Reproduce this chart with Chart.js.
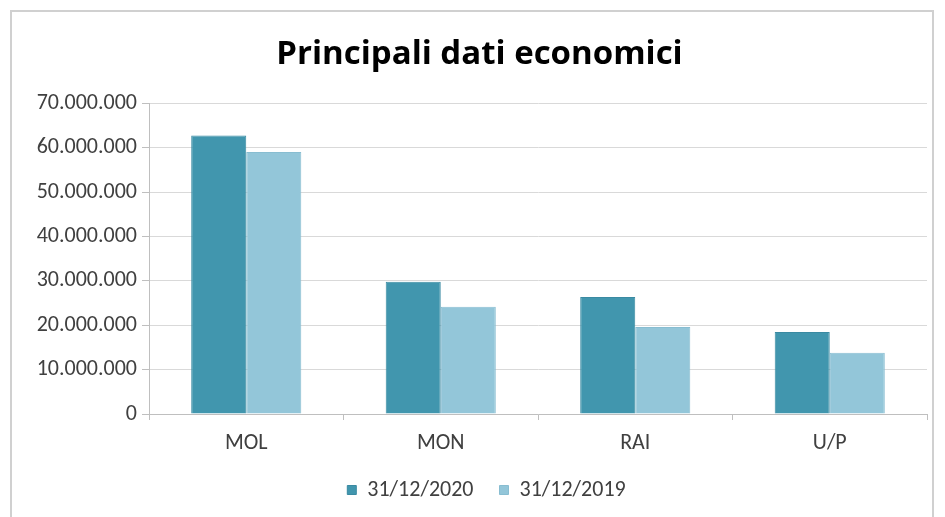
<!DOCTYPE html>
<html>
<head>
<meta charset="utf-8">
<script src="https://cdn.jsdelivr.net/npm/chart.js@4/dist/chart.umd.min.js"></script>
<style>
  html, body { margin: 0; padding: 0; background: #ffffff; }
  #wrap { width: 945px; height: 517px; position: relative; }
</style>
</head>
<body>
<div id="wrap"><canvas id="c" width="945" height="517"></canvas></div>
<script>
const categories = ["MOL", "MON", "RAI", "U/P"];
const series2020 = [62800000, 29800000, 26400000, 18500000];
const series2019 = [59100000, 24200000, 19600000, 13800000];
const seriesLabels = ["31/12/2020", "31/12/2019"];
const chartTitle = "Principali dati economici";

function fmt(v) {
  const s = Math.round(v).toString();
  return s.replace(/\B(?=(\d{3})+(?!\d))/g, ".");
}

const frame = {
  id: 'frame',
  beforeDraw(chart) {
    const ctx = chart.ctx;
    ctx.save();
    ctx.fillStyle = '#ffffff';
    ctx.fillRect(0, 0, chart.width, chart.height);
    ctx.strokeStyle = '#d0d0d0';
    ctx.lineWidth = 2;
    ctx.strokeRect(11, 11, 922, 530);
    ctx.restore();
  },
  afterLayout(chart) {
    if (chart.titleBlock) { chart.titleBlock.left += 16; chart.titleBlock.right += 16; }
    if (chart.legend) { chart.legend.left += 23; chart.legend.right += 23; }
  }
};

const FONT = "Carlito, Lato, 'Open Sans', sans-serif";

new Chart(document.getElementById('c'), {
  type: 'bar',
  data: {
    labels: categories,
    datasets: [
      { label: seriesLabels[0], data: series2020, backgroundColor: '#4196ae', borderColor: '#3a8aa2', borderWidth: 1 },
      { label: seriesLabels[1], data: series2019, backgroundColor: '#93c6d9', borderColor: '#88bdd1', borderWidth: 1 }
    ]
  },
  options: {
    responsive: false,
    animation: false,
    devicePixelRatio: 1,
    layout: { padding: { left: 0, right: 18, top: 0, bottom: 6 } },
    datasets: { bar: { categoryPercentage: 0.566, barPercentage: 1.0 } },
    plugins: {
      title: {
        display: true,
        text: chartTitle,
        color: '#000000',
        font: { family: "'Open Sans', sans-serif", size: 33, weight: 'bold' },
        padding: { top: 35, bottom: 29 }
      },
      legend: {
        position: 'bottom',
        labels: {
          boxWidth: 9, boxHeight: 9,
          color: '#404040',
          font: { family: FONT, size: 22 },
          padding: 26
        }
      },
      tooltip: { enabled: false }
    },
    scales: {
      x: {
        afterFit(scale) { scale.height = 39; },
        grid: { display: true, drawOnChartArea: false, offset: true, color: '#bfbfbf', tickLength: 6 },
        border: { color: '#bfbfbf', width: 1 },
        ticks: { color: '#404040', font: { family: FONT, size: 22 }, padding: 10 }
      },
      y: {
        min: 0, max: 70000000,
        afterFit(scale) { scale.width = 149; },
        grid: { color: '#d9d9d9', tickLength: 7, tickColor: '#bfbfbf' },
        border: { color: '#bfbfbf', width: 1 },
        ticks: {
          stepSize: 10000000,
          color: '#404040',
          font: { family: FONT, size: 22 },
          padding: 5,
          callback: (v) => fmt(v)
        }
      }
    }
  },
  plugins: [frame]
});
</script>
</body>
</html>
